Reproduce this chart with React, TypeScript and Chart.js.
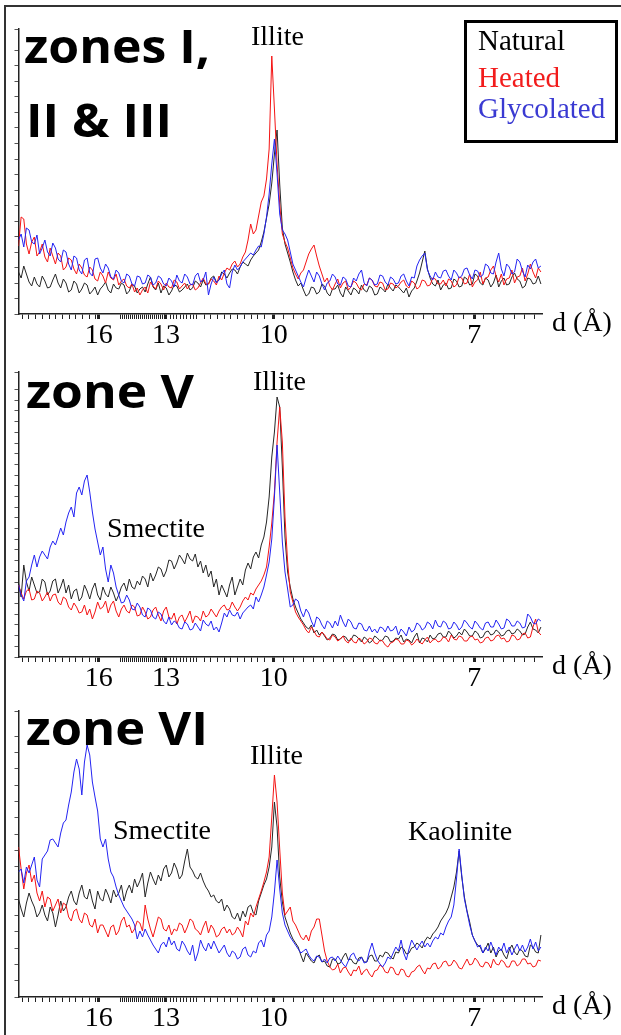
import React, { useEffect, useRef } from "react";
import { Chart, registerables } from "chart.js";

Chart.register(...registerables);

// 2-theta sampling grid (degrees, Cu K-alpha), 4.00 .. 13.90 every 0.05
const THETA: number[] = Array.from({ length: 199 }, (_, j) => Math.round((4 + j * 0.05) * 1000) / 1000);
const D_TICKS = [16, 13, 10, 7];
const WAVELENGTH = 1.5406;
const SERIES_NAMES = ["Natural", "Heated", "Glycolated"];

// ---- zones I, II & III ----
const P1_NATURAL = [
  42, 36, 48, 40, 32, 28, 37, 30, 27, 38, 33, 26, 27, 34, 40, 31, 26, 35, 31, 22,
  24, 33, 30, 21, 25, 31, 29, 20, 23, 27, 19, 25, 28, 32, 24, 21, 30, 26, 25, 31,
  29, 20, 23, 30, 28, 21, 25, 27, 22, 30, 37, 27, 24, 31, 21, 28, 26, 19, 23, 29,
  28, 22, 24, 27, 30, 24, 26, 33, 31, 27, 34, 29, 30, 36, 38, 32, 34, 42, 40, 36,
  41, 45, 44, 40, 47, 52, 50, 48, 54, 58, 61, 64, 72, 82, 96, 110, 131, 160, 184, 130,
  86, 70, 61, 52, 42, 34, 28, 31, 24, 18, 20, 27, 26, 20, 22, 30, 28, 21, 18, 25,
  25, 29, 21, 17, 27, 23, 19, 26, 24, 20, 29, 24, 22, 28, 26, 19, 20, 27, 25, 22,
  30, 26, 23, 29, 27, 24, 21, 26, 17, 23, 26, 33, 41, 52, 63, 45, 36, 30, 28, 34,
  24, 29, 31, 25, 26, 35, 33, 27, 28, 37, 35, 29, 30, 40, 38, 31, 29, 36, 34, 27,
  31, 39, 27, 33, 36, 29, 30, 37, 41, 35, 33, 26, 28, 36, 35, 30, 31, 38, 30,
];
const P1_HEATED = [
  68, 97, 95, 70, 60, 72, 77, 58, 62, 70, 57, 52, 66, 58, 50, 61, 58, 44, 47, 56,
  54, 45, 40, 50, 46, 39, 37, 47, 44, 35, 33, 42, 38, 31, 42, 36, 34, 40, 29, 33,
  35, 28, 26, 30, 22, 26, 19, 24, 27, 21, 32, 28, 25, 33, 30, 24, 31, 27, 26, 34,
  32, 25, 28, 31, 25, 29, 30, 24, 26, 31, 36, 30, 30, 35, 33, 29, 38, 34, 41, 46,
  44, 50, 53, 47, 50, 57, 62, 74, 90, 80, 84, 98, 112, 118, 135, 165, 258, 205, 150, 110,
  80, 72, 66, 56, 46, 40, 35, 41, 44, 52, 60, 65, 69, 58, 48, 40, 32, 36, 28, 24,
  30, 35, 26, 31, 33, 24, 27, 33, 31, 26, 24, 30, 29, 36, 34, 28, 27, 32, 31, 24,
  25, 31, 30, 26, 28, 32, 34, 28, 26, 33, 31, 25, 27, 34, 33, 28, 29, 36, 35, 30,
  30, 34, 28, 35, 33, 27, 29, 37, 36, 30, 31, 40, 27, 32, 34, 42, 30, 36, 37, 44,
  48, 38, 32, 40, 29, 35, 36, 44, 31, 37, 38, 46, 33, 40, 50, 42, 36, 46, 42,
];
const P1_GLYCOLATED = [
  74, 80, 67, 86, 84, 72, 70, 79, 60, 66, 74, 62, 58, 71, 66, 55, 52, 64, 62, 50,
  44, 58, 56, 44, 40, 54, 56, 41, 38, 55, 56, 46, 41, 50, 46, 37, 35, 44, 41, 33,
  31, 40, 38, 30, 28, 38, 37, 30, 31, 39, 37, 29, 31, 38, 36, 30, 28, 36, 33, 27,
  39, 33, 31, 40, 37, 30, 29, 38, 41, 32, 34, 42, 19, 30, 37, 31, 34, 40, 44, 30,
  26, 42, 49, 44, 47, 52, 55, 58, 61, 59, 64, 68, 67, 80, 97, 120, 150, 175, 140, 100,
  84, 80, 74, 62, 50, 44, 38, 32, 27, 36, 44, 38, 32, 42, 38, 30, 24, 31, 33, 40,
  37, 30, 29, 37, 35, 28, 27, 36, 33, 40, 44, 31, 28, 36, 34, 29, 30, 39, 38, 32,
  29, 37, 35, 30, 31, 38, 40, 33, 28, 37, 36, 48, 54, 58, 61, 44, 38, 34, 42, 37,
  36, 43, 44, 38, 34, 44, 41, 36, 38, 45, 46, 39, 35, 44, 43, 37, 39, 50, 48, 41,
  40, 52, 61, 45, 38, 50, 47, 40, 42, 55, 52, 43, 37, 49, 45, 52, 55, 46, 48,
];

// ---- zone V ----
const P2_NATURAL = [
  74, 60, 92, 75, 66, 80, 72, 64, 65, 78, 75, 62, 66, 76, 78, 64, 70, 78, 64, 72,
  58, 66, 68, 56, 60, 72, 66, 58, 68, 74, 62, 57, 70, 63, 60, 70, 64, 56, 62, 70,
  74, 66, 78, 70, 68, 76, 72, 81, 78, 70, 84, 76, 82, 90, 88, 80, 86, 97, 96, 88,
  94, 102, 98, 93, 104, 98, 96, 103, 90, 96, 84, 92, 80, 86, 70, 78, 62, 72, 66, 60,
  72, 80, 62, 70, 78, 72, 87, 94, 88, 100, 105, 99, 112, 120, 135, 160, 200, 225, 260, 250,
  190, 120, 85, 70, 58, 50, 44, 38, 34, 30, 28, 32, 24, 27, 22, 25, 21, 17, 19, 23,
  22, 17, 18, 21, 20, 16, 17, 22, 21, 18, 15, 20, 18, 14, 16, 21, 19, 16, 17, 21,
  20, 15, 16, 19, 18, 22, 15, 18, 17, 14, 20, 24, 14, 19, 18, 15, 22, 18, 19, 23,
  24, 20, 20, 26, 23, 19, 21, 25, 22, 28, 25, 21, 21, 26, 24, 19, 20, 25, 26, 22,
  23, 27, 25, 21, 22, 26, 27, 23, 24, 28, 26, 22, 23, 30, 35, 28, 27, 24, 30,
];
const P2_HEATED = [
  72, 64, 58, 66, 68, 57, 58, 66, 64, 56, 60, 65, 56, 62, 63, 55, 52, 60, 58, 50,
  47, 54, 50, 44, 45, 52, 42, 48, 38, 45, 55, 48, 50, 56, 44, 52, 56, 46, 40, 48,
  52, 46, 44, 52, 50, 41, 42, 50, 45, 38, 40, 47, 50, 42, 36, 46, 50, 40, 38, 44,
  33, 40, 42, 35, 40, 46, 34, 41, 40, 36, 46, 40, 42, 48, 44, 40, 46, 50, 52, 47,
  48, 55, 50, 46, 50, 56, 60, 57, 64, 62, 68, 72, 76, 82, 90, 110, 134, 165, 215, 250,
  215, 140, 95, 65, 55, 45, 40, 36, 32, 27, 24, 30, 26, 21, 20, 25, 22, 18, 17, 22,
  20, 16, 18, 21, 16, 14, 19, 15, 14, 19, 17, 13, 15, 19, 18, 14, 13, 17, 16, 12,
  10, 14, 15, 18, 17, 13, 13, 17, 16, 12, 14, 18, 15, 13, 17, 20, 14, 17, 18, 15,
  16, 20, 19, 15, 22, 18, 17, 21, 20, 16, 16, 20, 21, 17, 18, 14, 15, 19, 20, 16,
  17, 21, 22, 18, 19, 15, 16, 22, 21, 17, 18, 23, 24, 19, 20, 30, 38, 25, 22,
];
const P2_GLYCOLATED = [
  72, 62, 56, 76, 80, 92, 102, 90, 100, 106, 102, 98, 110, 116, 112, 120, 129, 122, 135, 144,
  150, 140, 164, 170, 162, 176, 182, 165, 145, 128, 115, 102, 110, 88, 75, 92, 84, 70, 62, 54,
  55, 62, 57, 48, 47, 54, 50, 42, 40, 49, 47, 40, 38, 45, 43, 36, 33, 40, 32, 36,
  34, 29, 28, 35, 33, 27, 28, 34, 30, 26, 37, 33, 31, 36, 27, 30, 25, 34, 44, 40,
  47, 42, 41, 45, 38, 44, 47, 50, 52, 48, 60, 55, 62, 70, 82, 95, 118, 160, 212, 165,
  115, 85, 68, 50, 52, 58, 56, 46, 40, 48, 44, 36, 30, 40, 38, 32, 28, 36, 34, 29,
  36, 31, 42, 35, 30, 38, 35, 29, 28, 34, 33, 27, 26, 31, 25, 28, 24, 30, 29, 25,
  31, 26, 27, 31, 22, 28, 25, 21, 30, 25, 27, 34, 32, 27, 29, 35, 33, 28, 37, 31,
  30, 36, 34, 28, 29, 35, 32, 27, 30, 37, 34, 30, 28, 36, 33, 29, 27, 34, 35, 30,
  30, 37, 33, 28, 29, 38, 36, 31, 31, 36, 34, 29, 30, 43, 40, 34, 33, 38, 36,
];

// ---- zone VI ----
const P3_NATURAL = [
  98, 88, 80, 94, 104, 96, 90, 80, 84, 92, 82, 76, 90, 84, 70, 82, 96, 86, 90, 100,
  106, 96, 92, 104, 112, 100, 98, 108, 96, 88, 106, 98, 96, 108, 102, 94, 107, 100, 104, 112,
  96, 106, 112, 104, 118, 110, 116, 124, 100, 114, 125, 118, 112, 122, 116, 128, 132, 120, 124, 134,
  128, 118, 122, 136, 148, 130, 126, 120, 118, 124, 116, 110, 106, 100, 102, 96, 94, 98, 86, 92,
  88, 80, 78, 84, 76, 86, 80, 90, 92, 84, 82, 96, 104, 112, 118, 130, 150, 195, 170, 120,
  95, 80, 72, 64, 58, 54, 50, 42, 35, 44, 40, 36, 34, 40, 42, 35, 36, 31, 30, 38,
  38, 33, 34, 40, 44, 37, 38, 34, 33, 39, 40, 35, 35, 41, 42, 36, 36, 42, 40, 45,
  44, 40, 38, 45, 44, 50, 48, 43, 44, 49, 50, 54, 52, 49, 56, 60, 58, 63, 66, 70,
  76, 80, 84, 90, 100, 110, 125, 146, 120, 100, 86, 75, 62, 56, 52, 50, 44, 48, 54, 44,
  50, 40, 46, 48, 42, 38, 47, 52, 45, 42, 48, 46, 41, 40, 52, 50, 45, 44, 62,
];
const P3_HEATED = [
  150, 128, 108, 124, 132, 115, 122, 104, 96, 106, 90, 100, 98, 86, 92, 98, 84, 94, 92, 80,
  76, 86, 88, 78, 74, 84, 82, 72, 70, 78, 64, 72, 72, 66, 60, 70, 72, 62, 66, 76,
  80, 70, 72, 64, 68, 76, 74, 66, 92, 78, 68, 60, 70, 80, 78, 68, 66, 72, 62, 68,
  66, 74, 72, 64, 70, 78, 76, 68, 66, 62, 70, 76, 64, 72, 68, 60, 62, 68, 70, 64,
  68, 62, 64, 70, 66, 60, 76, 72, 84, 80, 90, 98, 106, 115, 125, 140, 180, 222, 195, 148,
  104, 82, 86, 90, 76, 72, 66, 60, 57, 62, 56, 66, 70, 78, 78, 62, 46, 36, 30, 27,
  28, 33, 24, 29, 30, 25, 21, 27, 26, 31, 22, 26, 28, 23, 20, 26, 27, 32, 30, 25,
  24, 30, 29, 23, 22, 28, 27, 21, 20, 25, 26, 30, 32, 27, 23, 29, 28, 33, 34, 28,
  30, 35, 36, 31, 32, 37, 34, 29, 28, 33, 38, 32, 33, 39, 36, 31, 30, 35, 34, 29,
  38, 33, 32, 37, 35, 30, 30, 36, 36, 31, 33, 38, 38, 33, 34, 30, 31, 37, 36,
];
const P3_GLYCOLATED = [
  125, 128, 114, 130, 124, 132, 140, 117, 110, 138, 142, 146, 157, 158, 154, 150, 164, 174, 177, 192,
  205, 225, 238, 228, 202, 235, 252, 242, 215, 200, 186, 158, 150, 158, 138, 125, 120, 110, 102, 96,
  90, 86, 82, 78, 72, 58, 66, 60, 68, 62, 57, 52, 48, 44, 52, 55, 50, 60, 52, 56,
  48, 46, 56, 52, 46, 42, 52, 36, 44, 57, 50, 46, 54, 48, 56, 50, 44, 48, 52, 44,
  40, 46, 44, 38, 40, 48, 50, 42, 40, 46, 44, 54, 57, 50, 62, 66, 80, 105, 137, 108,
  84, 72, 66, 60, 56, 52, 48, 44, 46, 48, 42, 38, 36, 41, 40, 35, 38, 34, 39, 40,
  36, 41, 37, 33, 30, 36, 42, 44, 38, 36, 40, 34, 35, 46, 54, 44, 37, 33, 30, 34,
  40, 38, 44, 50, 46, 57, 44, 37, 48, 57, 52, 47, 52, 56, 50, 54, 50, 56, 60, 58,
  64, 62, 70, 76, 80, 92, 118, 148, 122, 98, 85, 72, 62, 56, 50, 52, 44, 50, 46, 55,
  48, 42, 50, 46, 54, 44, 50, 42, 48, 53, 46, 52, 45, 50, 58, 48, 55, 46, 50,
];

// ---------------- styling / layout ----------------
const COLORS = { natural: "#262626", heated: "#f41414", glycolated: "#2424f2" };
const LEGEND_COLORS = ["#000000", "#f21c1c", "#3a3ad2"];
const TITLE_FONT = "bold 46px 'Open Sans'";
const SERIF = "28px 'Liberation Serif'";

const dToTheta = (d: number) => (2 * Math.asin(WAVELENGTH / (2 * d)) * 180) / Math.PI;
const MAJOR = D_TICKS.map(dToTheta);

function buildMinorTicks(): number[] {
  const out: number[] = [];
  for (let k = 0; k <= 11; k++) out.push(4.072 + 0.1266 * k);
  for (let k = 0; k <= 23; k++) out.push(5.926 + 0.038 * k);
  for (let k = 0; k <= 8; k++) out.push(6.875 + 0.063 * k);
  for (let k = 1; k <= 10; k++) out.push(7.39 + 0.127 * k);
  for (let k = 0; k <= 25; k++) out.push(9.02 + 0.19 * k);
  return out.filter((v) => MAJOR.every((m) => Math.abs(m - v) > 0.03) && v < 13.93);
}
const X_TICKS = [...buildMinorTicks(), ...MAJOR].sort((a, b) => a - b);
const isMajor = (v: number) => MAJOR.some((m) => Math.abs(m - v) < 1e-6);
const labelFor = (v: number) => {
  const i = MAJOR.findIndex((m) => Math.abs(m - v) < 1e-6);
  return i >= 0 ? String(D_TICKS[i]) : "";
};

type Txt = { text: string; x: number; y: number; font: string; color?: string; width?: number };

type PanelCfg = {
  top: number;
  height: number;
  areaTop: number; // page coords
  areaBottom: number;
  yStep: number;
  natural: number[];
  heated: number[];
  glycolated: number[];
  texts: Txt[];
  legend?: boolean;
};

const PANELS: PanelCfg[] = [
  {
    top: 0, height: 360, areaTop: 29, areaBottom: 314, yStep: 15.5,
    natural: P1_NATURAL, heated: P1_HEATED, glycolated: P1_GLYCOLATED,
    legend: true,
    texts: [
      { text: "zones I,", x: 24, y: 63, font: TITLE_FONT, width: 186 },
      { text: "II & III", x: 26, y: 137, font: TITLE_FONT, width: 146 },
      { text: "Illite", x: 251, y: 45, font: SERIF },
      { text: "d (Å)", x: 552, y: 331, font: SERIF },
    ],
  },
  {
    top: 345, height: 355, areaTop: 372, areaBottom: 657, yStep: 10.7,
    natural: P2_NATURAL, heated: P2_HEATED, glycolated: P2_GLYCOLATED,
    texts: [
      { text: "zone V", x: 26, y: 408, font: TITLE_FONT, width: 168 },
      { text: "Illite", x: 253, y: 390, font: SERIF },
      { text: "Smectite", x: 107, y: 537, font: SERIF },
      { text: "d (Å)", x: 552, y: 674, font: SERIF },
    ],
  },
  {
    top: 685, height: 360, areaTop: 711, areaBottom: 997, yStep: 16.3,
    natural: P3_NATURAL, heated: P3_HEATED, glycolated: P3_GLYCOLATED,
    texts: [
      { text: "zone VI", x: 26, y: 745, font: TITLE_FONT, width: 182 },
      { text: "Illite", x: 250, y: 764, font: SERIF },
      { text: "Smectite", x: 113, y: 839, font: SERIF },
      { text: "Kaolinite", x: 408, y: 840, font: SERIF },
      { text: "d (Å)", x: 552, y: 1014, font: SERIF },
    ],
  },
];

const PLOT_LEFT = 18.5;
const PLOT_RIGHT = 542.5;
const Y_AXIS_W = 8;
const X_AXIS_H = 40;

function drawText(ctx: CanvasRenderingContext2D, t: Txt, offY: number) {
  ctx.save();
  ctx.font = t.font;
  ctx.fillStyle = t.color || "#000";
  ctx.textAlign = "left";
  ctx.textBaseline = "alphabetic";
  let sx = 1;
  if (t.width) {
    const w = ctx.measureText(t.text).width;
    if (w > 0) sx = t.width / w;
  }
  ctx.translate(t.x, t.y - offY);
  ctx.scale(sx, 1);
  ctx.fillText(t.text, 0, 0);
  ctx.restore();
}

function makeOverlay(cfg: PanelCfg) {
  return {
    id: "overlay",
    afterDraw(chart: any) {
      const ctx: CanvasRenderingContext2D = chart.ctx;
      cfg.texts.forEach((t) => drawText(ctx, t, cfg.top));
      if (cfg.legend) {
        ctx.save();
        ctx.strokeStyle = "#000";
        ctx.lineWidth = 3;
        ctx.strokeRect(465.5, 21.5 - cfg.top, 151, 120);
        ctx.restore();
        const ys = [50, 87, 118];
        SERIES_NAMES.forEach((name, i) =>
          drawText(ctx, { text: name, x: 478, y: ys[i], font: "29px 'Liberation Serif'", color: LEGEND_COLORS[i] }, cfg.top)
        );
      }
    },
  };
}

const toPts = (vals: number[]) => vals.map((v, i) => ({ x: THETA[i], y: v }));

function Panel({ cfg }: { cfg: PanelCfg }) {
  const ref = useRef<HTMLCanvasElement | null>(null);
  useEffect(() => {
    if (!ref.current) return;
    const ds = (label: string, vals: number[], color: string, order: number) => ({
      label,
      data: toPts(vals),
      borderColor: color,
      backgroundColor: color,
      borderWidth: 1,
      pointRadius: 0,
      tension: 0,
      fill: false,
      order,
    });
    const chart = new Chart(ref.current, {
      type: "line",
      data: {
        datasets: [
          ds("Glycolated", cfg.glycolated, COLORS.glycolated, 0),
          ds("Heated", cfg.heated, COLORS.heated, 1),
          ds("Natural", cfg.natural, COLORS.natural, 2),
        ],
      },
      options: {
        animation: false,
        responsive: false,
        maintainAspectRatio: false,
        devicePixelRatio: 1,
        layout: {
          padding: {
            left: PLOT_LEFT - Y_AXIS_W,
            right: 621 - PLOT_RIGHT,
            top: cfg.areaTop - cfg.top,
            bottom: cfg.height - (cfg.areaBottom - cfg.top) - X_AXIS_H,
          },
        },
        plugins: { legend: { display: false }, tooltip: { enabled: false } },
        scales: {
          x: {
            type: "linear",
            min: 4,
            max: 13.93,
            afterFit: (s: any) => { s.height = X_AXIS_H; },
            afterBuildTicks: (s: any) => { s.ticks = X_TICKS.map((v) => ({ value: v })); },
            ticks: {
              autoSkip: false,
              maxRotation: 0,
              minRotation: 0,
              padding: 0,
              color: "#000",
              font: { family: "'Liberation Serif'", size: 28 },
              callback: (v: any) => labelFor(Number(v)),
            },
            grid: {
              drawOnChartArea: false,
              drawTicks: true,
              tickLength: 5,
              tickColor: "#222",
              tickWidth: (c: any) => (c.tick && isMajor(c.tick.value) ? 3 : 1),
            },
            border: { color: "#222", width: 1.5 },
          },
          y: {
            type: "linear",
            min: 0,
            max: cfg.areaBottom - cfg.areaTop,
            afterFit: (s: any) => { s.width = Y_AXIS_W; },
            ticks: { display: false, stepSize: cfg.yStep },
            grid: { drawOnChartArea: false, drawTicks: true, tickLength: 4, tickColor: "#555" },
            border: { color: "#222", width: 1.5 },
          },
        },
      },
      plugins: [makeOverlay(cfg)],
    } as any);
    return () => chart.destroy();
  }, [cfg]);
  return (
    <canvas
      ref={ref}
      width={621}
      height={cfg.height}
      style={{ position: "absolute", left: 0, top: cfg.top, width: 621, height: cfg.height }}
    />
  );
}

export default function App() {
  return (
    <div style={{ position: "fixed", left: 0, top: 0, width: 621, height: 1035, background: "#fff", overflow: "hidden" }}>
      <div
        style={{
          position: "absolute",
          left: 4,
          top: 5,
          width: 620,
          height: 1040,
          borderTop: "2px solid #333",
          borderLeft: "2px solid #333",
          boxSizing: "border-box",
        }}
      />
      {PANELS.map((p, i) => (
        <Panel key={i} cfg={p} />
      ))}
    </div>
  );
}
